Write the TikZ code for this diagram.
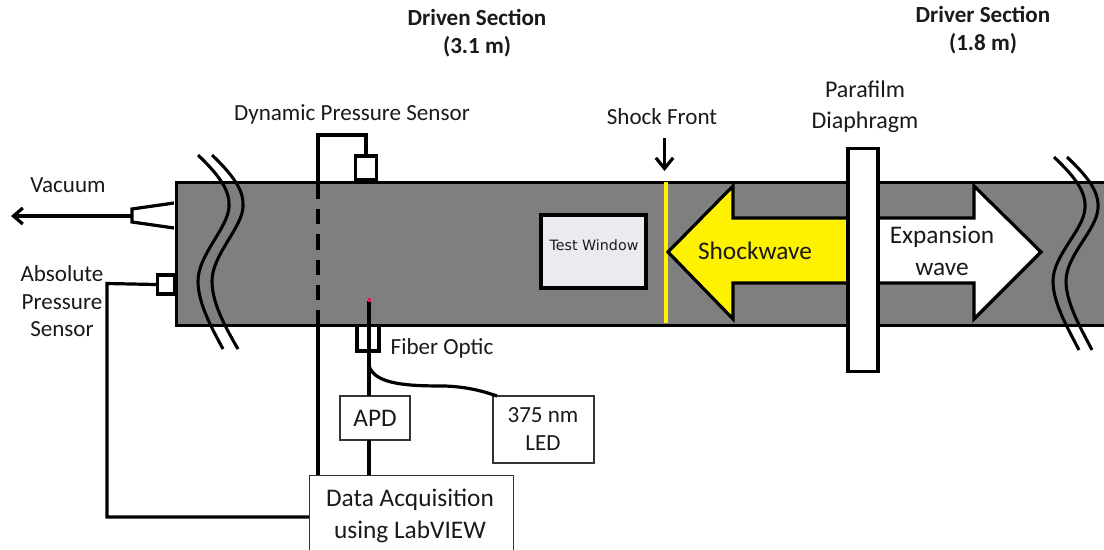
\documentclass[tikz,border=0pt]{standalone}
\usepackage{fontspec}
\setmainfont{Carlito}
\newfontfamily\wfont{DejaVu Sans}
\usetikzlibrary{arrows.meta}
\definecolor{tube}{HTML}{7F7F7F}
\definecolor{win}{HTML}{E9EBEF}
\definecolor{tip}{HTML}{E8185C}
\definecolor{txt}{HTML}{1A1A1A}
\tikzset{
  lbl/.style={font=\fontsize{17.3}{20.6}\selectfont, text=txt, inner sep=0pt, align=center},
  big/.style={font=\fontsize{19}{24}\selectfont, text=txt, inner sep=0pt, align=center},
  para/.style={font=\fontsize{18}{23}\selectfont, text=txt, inner sep=0pt, align=center},
  head/.style={font=\fontsize{17.3}{21}\selectfont\bfseries, text=txt, inner sep=0pt, align=center},
  heavy/.style={line width=2.4pt, black},
  thick box/.style={draw=black, line width=2.4pt, fill=none, inner sep=0pt},
  thin box/.style={draw=black!80, line width=1pt, fill=white, inner sep=0pt},
  brk/.style={line width=2.3pt, black},
  wave/.style={draw=black, line width=2.4pt, line join=miter},
}
\begin{document}
\begin{tikzpicture}[x=0.75pt,y=-0.75pt]
\useasboundingbox (0,0) rectangle (1104,550);
\fill[white] (0,0) rectangle (1104,550);
% tube
\node[draw=black, line width=2.2pt, fill=tube, inner sep=0pt, minimum width=717.5pt, minimum height=107.25pt, anchor=north west] (tube) at (175,181) {};
% break lines
\draw[brk] (198,155) .. controls (222,178) and (230,192) .. (229,207) .. controls (228,228) and (198,255) .. (198,281) .. controls (198,302) and (210,325) .. (223,349);
\draw[brk] (212,155) .. controls (236,178) and (244,192) .. (243,207) .. controls (242,228) and (212,255) .. (212,281) .. controls (212,302) and (224,325) .. (238,349);
\draw[brk] (1054,157) .. controls (1076,178) and (1086,192) .. (1085,208) .. controls (1084,230) and (1053,255) .. (1053,281) .. controls (1053,302) and (1066,325) .. (1079,350);
\draw[brk] (1067,157) .. controls (1089,178) and (1099,192) .. (1098,208) .. controls (1097,230) and (1066,255) .. (1066,281) .. controls (1066,302) and (1079,325) .. (1092,350);
% vacuum nozzle and arrow
\coordinate (nz) at (132,216);
\coordinate (vac) at (11,216);
\draw[heavy, line join=miter] (174,203) -- (132,209) -- (132,222) -- (174,228);
\draw[heavy, -{Straight Barb[length=7pt,width=12pt,line width=2.4pt]}] (nz) -- (vac);
\node[lbl] (vacl) at (68,185) {Vacuum};
% absolute sensor
\node[thick box, fill=white, minimum width=12.75pt, minimum height=14.25pt] (abs) at (166,284.5) {};
\node[lbl] (absl) at (62,301.5) {Absolute\\Pressure\\Sensor};
% dynamic sensor
\node[thick box, fill=white, minimum width=16pt, minimum height=18pt] (dyn) at (366,168) {};
\node[lbl] (dynl) at (352,114.5) {Dynamic Pressure Sensor};
% DAQ, APD, LED
\node[thin box, minimum width=153pt, minimum height=60pt, anchor=north west] (daq) at (309,475) {};
\node[big] (daql) at (410,515.5) {Data Acquisition\\using LabVIEW};
\node[thin box, big, minimum width=52.5pt, minimum height=33pt] (apd) at (375,418) {APD};
\node[thin box, minimum width=75.75pt, minimum height=50.25pt] (led) at (543.5,429.5) {};
\node[lbl, font=\fontsize{17.3}{21}\selectfont] (ledl) at (543,429) {375 nm\\LED};
% fibre
\node[thick box, minimum width=16.5pt, minimum height=19pt, anchor=north] (fb) at (368,324) {};
\coordinate (ftip) at (369,301);
\coordinate (fsplit) at (369,366);
\coordinate (apdtop) at (369,396);
\coordinate (apdbot) at (369,440);
\coordinate (daqfib) at (369,475);
\draw[heavy] (ftip) -- (apdtop);
\draw[heavy] (apdbot) -- (daqfib);
\draw[heavy] (fsplit) .. controls (375,385) and (410,386) .. (445,386) .. controls (470,387) and (485,392) .. (497,396);
\fill[tip] (367.5,298) rectangle (371,301.5);
\node[lbl] (fibl) at (442,348) {Fiber Optic};
% dynamic wiring
\coordinate (d1) at (318,135);
\coordinate (d2) at (366,135);
\coordinate (d3) at (318,181);
\coordinate (d4) at (318,324);
\coordinate (d5) at (318,475);
\draw[heavy, line join=miter] (dyn.north) -- (d2) -- (d1) -- (d3);
\draw[heavy, dash pattern=on 11.5pt off 7.5pt, dash phase=-2pt] (d3) -- (d4);
\draw[heavy] (d4) -- (d5);
% absolute wiring
\coordinate (a1) at (107,283.5);
\coordinate (a2) at (107,517);
\coordinate (a3) at (309,517);
\draw[heavy, line join=miter] (abs.west) -- (a1) -- (a2) -- (a3);
% test window
\node[draw=black, line width=2.4pt, fill=win, inner sep=0pt, minimum width=78.75pt, minimum height=54.75pt] (tw) at (593.5,251.5) {};
\node[font=\wfont\fontsize{10.7}{13}\selectfont, text=txt, inner sep=0pt] (twl) at (594,245) {Test Window};
% shock front
\draw[line width=3pt, yellow] (665.5,182) -- (665.5,323);
\coordinate (sf1) at (664.5,138);
\coordinate (sf2) at (664.5,171);
\draw[line width=2.4pt, -{Straight Barb[length=8pt,width=13pt,line width=2.4pt]}] (sf1) -- (sf2);
\node[lbl] (sfl) at (662,117) {Shock Front};
% waves
\draw[wave, fill=yellow] (852,218) -- (733,218) -- (733,186) -- (668,252) -- (733,319) -- (733,283) -- (852,283) -- cycle;
\draw[wave, fill=white] (870,218) -- (974,218) -- (974,186) -- (1041,252) -- (974,319) -- (974,283) -- (870,283) -- cycle;
\node[big] (swl) at (755,251) {Shockwave};
\node[big] (exl) at (942,251) {Expansion\\wave};
% diaphragm
\node[draw=black, line width=2.4pt, fill=white, inner sep=0pt, minimum width=22.5pt, minimum height=167pt, anchor=north] (dia) at (863,147) {};
\node[para] (dial) at (865,107) {Parafilm\\Diaphragm};
% headings
\node[head] (dv) at (477,33.5) {Driven Section\\(3.1 m)};
\node[head] (dr) at (983,30.5) {Driver Section\\(1.8 m)};
\end{tikzpicture}
\end{document}
